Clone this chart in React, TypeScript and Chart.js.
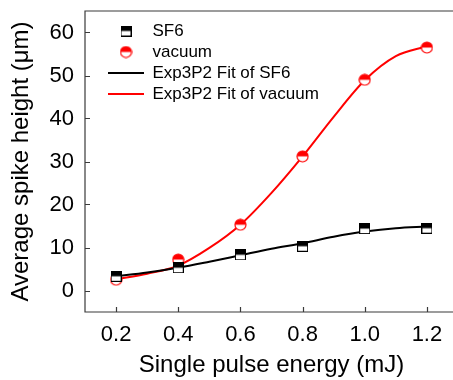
import React, { useEffect, useRef } from "react";
import { Chart, registerables } from "chart.js";

Chart.register(...registerables);

const energies = [0.2, 0.4, 0.6, 0.8, 1.0, 1.2];
const sf6Values = [3.3, 5.3, 8.3, 10.3, 14.4, 14.5];
const vacuumValues = [2.5, 7.2, 15.3, 31.2, 49.0, 56.5];

const fitEnergies = [0.2, 0.3, 0.4, 0.5, 0.6, 0.7, 0.8, 0.9, 1.0, 1.1, 1.2];
const sf6FitValues = [3.3, 4.2, 5.3, 6.7, 8.2, 9.7, 11.0, 12.5, 13.7, 14.5, 14.9];
const vacuumFitValues = [2.6, 3.9, 5.8, 9.9, 15.3, 22.7, 31.2, 40.4, 48.9, 54.5, 56.8];

const xTicks = [0.2, 0.4, 0.6, 0.8, 1.0, 1.2];
const yTicks = [0, 10, 20, 30, 40, 50, 60];

const seriesNames = ["SF6", "vacuum", "Exp3P2 Fit of SF6", "Exp3P2 Fit of vacuum"];

const FONT = "'Liberation Sans', Arial, sans-serif";

function makeSquare(): HTMLCanvasElement {
  const c = document.createElement("canvas");
  c.width = 11;
  c.height = 11;
  const ctx = c.getContext("2d")!;
  ctx.fillStyle = "#fff";
  ctx.fillRect(0.5, 0.5, 10, 10);
  ctx.fillStyle = "#000";
  ctx.fillRect(0.5, 0.5, 10, 5);
  ctx.strokeStyle = "#000";
  ctx.lineWidth = 1;
  ctx.strokeRect(0.5, 0.5, 10, 10);
  return c;
}

function makeCircle(): HTMLCanvasElement {
  const c = document.createElement("canvas");
  c.width = 13;
  c.height = 13;
  const ctx = c.getContext("2d")!;
  const r = 5.5;
  ctx.beginPath();
  ctx.arc(6.5, 6.5, r, 0, Math.PI * 2);
  ctx.fillStyle = "#fff";
  ctx.fill();
  ctx.beginPath();
  ctx.arc(6.5, 6.5, r, Math.PI, Math.PI * 2);
  ctx.closePath();
  ctx.fillStyle = "#ff0000";
  ctx.fill();
  ctx.beginPath();
  ctx.arc(6.5, 6.5, r, 0, Math.PI * 2);
  ctx.strokeStyle = "#ff0000";
  ctx.lineWidth = 1.2;
  ctx.stroke();
  return c;
}

const framePlugin = {
  id: "frame",
  afterLayout(chart: any) {
    const lg = chart.legend;
    if (lg) {
      lg.left = chart.chartArea.left + 19;
      lg.top = chart.chartArea.top + 7.5;
    }
  },
  afterDraw(chart: any) {
    const { ctx, chartArea } = chart;
    const xs = chart.scales.x;
    const ys = chart.scales.y;
    ctx.save();
    ctx.strokeStyle = "#3a3a3a";
    ctx.lineWidth = 1.2;
    ctx.beginPath();
    ctx.moveTo(chartArea.right, chartArea.top);
    ctx.lineTo(chartArea.left, chartArea.top);
    ctx.lineTo(chartArea.left, chartArea.bottom);
    ctx.lineTo(chartArea.right, chartArea.bottom);
    ctx.lineTo(chartArea.right, chartArea.top);
    for (const v of xTicks) {
      const px = Math.round(xs.getPixelForValue(v)) + 0.5;
      ctx.moveTo(px, chartArea.bottom);
      ctx.lineTo(px, chartArea.bottom - 5);
    }
    for (const v of yTicks) {
      const py = Math.round(ys.getPixelForValue(v)) + 0.5;
      ctx.moveTo(chartArea.left, py);
      ctx.lineTo(chartArea.left + 5, py);
    }
    ctx.stroke();
    ctx.restore();
  },
};

export default function App() {
  const ref = useRef<HTMLCanvasElement>(null);

  useEffect(() => {
    if (!ref.current) return;
    const square = makeSquare();
    const circle = makeCircle();
    const chart = new Chart(ref.current, {
      type: "scatter",
      data: {
        datasets: [
          {
            label: seriesNames[0],
            data: energies.map((x, i) => ({ x, y: sf6Values[i] })),
            pointStyle: square as any,
            showLine: false,
            borderColor: "#000",
            backgroundColor: "#000",
          },
          {
            label: seriesNames[1],
            data: energies.map((x, i) => ({ x, y: vacuumValues[i] })),
            pointStyle: circle as any,
            showLine: false,
            borderColor: "#f00",
            backgroundColor: "#f00",
          },
          {
            label: seriesNames[2],
            data: fitEnergies.map((x, i) => ({ x, y: sf6FitValues[i] })),
            showLine: true,
            pointRadius: 0,
            pointStyle: "line",
            borderColor: "#000",
            backgroundColor: "#000",
            borderWidth: 2,
            cubicInterpolationMode: "monotone",
          },
          {
            label: seriesNames[3],
            data: fitEnergies.map((x, i) => ({ x, y: vacuumFitValues[i] })),
            showLine: true,
            pointRadius: 0,
            pointStyle: "line",
            borderColor: "#f00",
            backgroundColor: "#f00",
            borderWidth: 2,
            cubicInterpolationMode: "monotone",
          },
        ] as any,
      },
      options: {
        animation: false,
        responsive: false,
        events: [],
        layout: { padding: { top: 11, right: 12, left: 0, bottom: 0 } },
        plugins: {
          tooltip: { enabled: false },
          legend: {
            position: "chartArea" as any,
            fullSize: false,
            align: "start",
            labels: {
              usePointStyle: true,
              pointStyleWidth: 36,
              padding: 4,
              color: "#000",
              font: { family: FONT, size: 17 },
            },
          },
        },
        scales: {
          x: {
            type: "linear",
            min: 0.1,
            max: 1.3,
            grid: { display: false, drawTicks: false },
            border: { display: false },
            afterBuildTicks: (s: any) => {
              s.ticks = xTicks.map((v) => ({ value: v }));
            },
            afterFit: (s: any) => {
              s.height = 68;
              s.paddingLeft = 0;
              s.paddingRight = 0;
            },
            ticks: {
              padding: 10,
              color: "#000",
              font: { family: FONT, size: 22 },
              maxRotation: 0,
              callback: (v: any) => Number(v).toFixed(1),
            },
            title: {
              display: true,
              text: "Single pulse energy (mJ)",
              color: "#000",
              font: { family: FONT, size: 24 },
              padding: { top: 0, bottom: 0 },
            },
          },
          y: {
            type: "linear",
            min: -5,
            max: 65,
            grid: { display: false, drawTicks: false },
            border: { display: false },
            afterBuildTicks: (s: any) => {
              s.ticks = yTicks.map((v) => ({ value: v }));
            },
            afterFit: (s: any) => {
              s.width = 85;
              s.paddingTop = 0;
              s.paddingBottom = 0;
            },
            ticks: {
              padding: 11,
              color: "#000",
              font: { family: FONT, size: 22 },
              callback: (v: any) => String(v),
            },
            title: {
              display: true,
              text: "Average spike height (μm)",
              color: "#000",
              font: { family: FONT, size: 24 },
              padding: { top: 7, bottom: 0 },
            },
          },
        },
      },
      plugins: [framePlugin],
    });
    return () => chart.destroy();
  }, []);

  return (
    <div style={{ position: "absolute", left: 0, top: 0, width: 453, height: 380, overflow: "hidden", background: "#fff" }}>
      <canvas ref={ref} width={470} height={380} style={{ display: "block", width: 470, height: 380 }} />
    </div>
  );
}
